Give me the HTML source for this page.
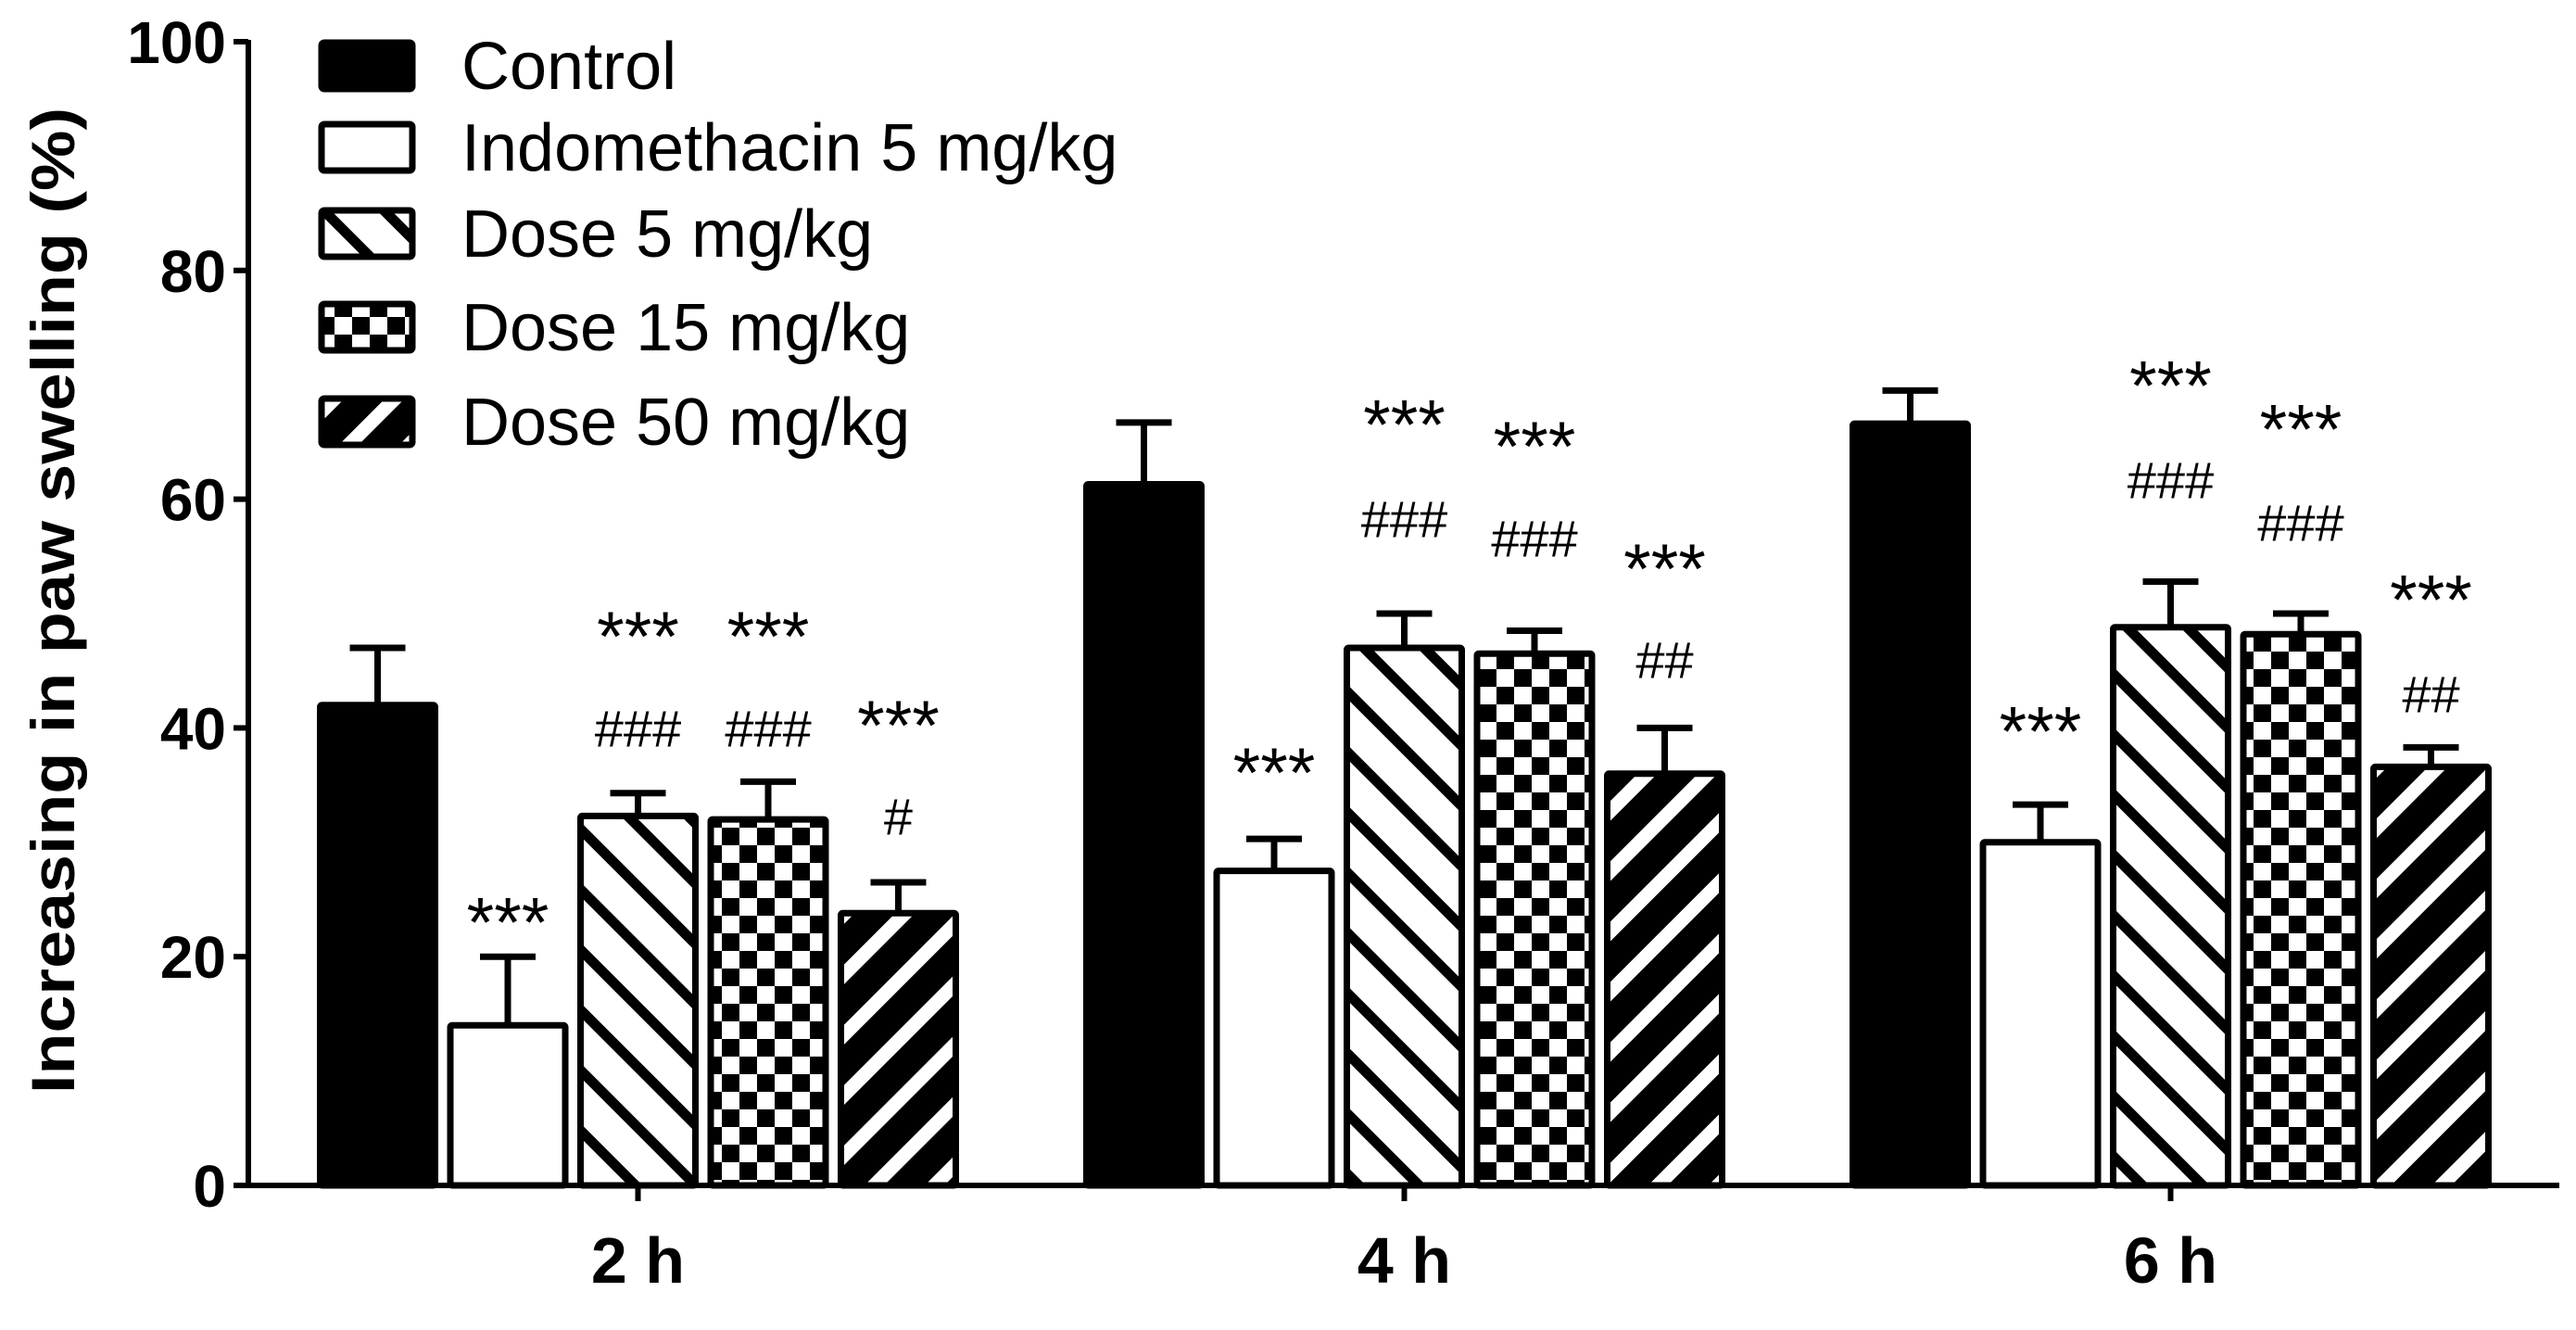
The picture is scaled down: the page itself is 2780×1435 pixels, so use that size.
<!DOCTYPE html>
<html><head><meta charset="utf-8"><style>
html,body{margin:0;padding:0;background:#fff;}
svg{display:block;font-family:"Liberation Sans",Arial,sans-serif;}
</style></head><body>
<svg id="chart" width="2780" height="1435" viewBox="0 0 2780 1435" xmlns="http://www.w3.org/2000/svg">
<defs>
<pattern id="p-d5" patternUnits="userSpaceOnUse" width="46" height="46" patternTransform="rotate(45)">
<rect width="46" height="46" fill="#fff"/><rect x="0" y="0" width="46" height="11" fill="#000"/></pattern>
<pattern id="p-d15" patternUnits="userSpaceOnUse" width="38" height="38">
<rect width="38" height="38" fill="#fff"/><rect x="0" y="0" width="19" height="19" fill="#000"/><rect x="19" y="19" width="19" height="19" fill="#000"/></pattern>
<pattern id="p-d50" patternUnits="userSpaceOnUse" width="46" height="46" patternTransform="rotate(-45)">
<rect width="46" height="46" fill="#000"/><rect x="0" y="0" width="46" height="15" fill="#fff"/></pattern>
</defs>
<g id="axes"></g>
<g id="bars"></g>
<g id="legend"></g>
</svg>
<script>
const categories = ["2 h", "4 h", "6 h"];
const seriesNames = ["Control", "Indomethacin 5 mg/kg", "Dose 5 mg/kg", "Dose 15 mg/kg", "Dose 50 mg/kg"];
const control = [42, 61.3, 66.6];
const indomethacin = [14, 27.5, 30];
const dose5 = [32.3, 47, 48.8];
const dose15 = [32, 46.5, 48.2];
const dose50 = [23.8, 36, 36.6];
const errControl = [5, 5.4, 2.9];
const errIndo = [6, 2.8, 3.3];
const errDose5 = [2, 3, 4];
const errDose15 = [3.3, 2, 1.8];
const errDose50 = [2.7, 4, 1.7];
const starText = [["", "***", "***", "***", "***"], ["", "***", "***", "***", "***"], ["", "***", "***", "***", "***"]];
const starY = [[0, 23.3, 48.3, 48.3, 40.5], [0, 36.4, 66.8, 64.9, 54.2], [0, 40.0, 70.2, 66.4, 51.5]];
const hashText = [["", "", "###", "###", "#"], ["", "", "###", "###", "##"], ["", "", "###", "###", "##"]];
const hashY = [[0, 0, 40.0, 40.0, 32.3], [0, 0, 58.3, 56.6, 46.0], [0, 0, 61.7, 58.0, 43.0]];
const yTicks = [0, 20, 40, 60, 80, 100];

const series = [control, indomethacin, dose5, dose15, dose50];
const errs = [errControl, errIndo, errDose5, errDose15, errDose50];
const fills = ["#000", "#fff", "url(#p-d5)", "url(#p-d15)", "url(#p-d50)"];
const keys = ["control", "indomethacin", "dose-5", "dose-15", "dose-50"];
const NS = "http://www.w3.org/2000/svg";
const x0 = 268, xEnd = 2762, yBase = 1279, yTop = 45;
const yScale = v => yBase - (v / 100) * (yBase - yTop);
const groupStart = i => 342 + i * 827;
const barW = 131, barStep = 140.5;
const barX = (g, s) => groupStart(g) + s * barStep;
function mk(tag, attrs, parent) { const e = document.createElementNS(NS, tag); for (const k in attrs) e.setAttribute(k, attrs[k]); parent.appendChild(e); return e; }
const axes = document.getElementById('axes'), bars = document.getElementById('bars'), legend = document.getElementById('legend');

let e = mk('line', {x1: x0, y1: yTop - 2, x2: x0, y2: yBase + 3, stroke: '#000', 'stroke-width': 6}, axes);


e = mk('line', {x1: x0 - 3, y1: yBase, x2: xEnd, y2: yBase, stroke: '#000', 'stroke-width': 6}, axes);


yTicks.forEach(t => {
  const y = yScale(t);
  let tk = mk('line', {x1: x0 - 16, y1: y, x2: x0, y2: y, stroke: '#000', 'stroke-width': 6}, axes);
  
  
  let lb = mk('text', {x: x0 - 24, y: y + 23, 'text-anchor': 'end', 'font-size': 64, 'font-weight': 'bold'}, axes);
  lb.textContent = t;
  
  
});
let yt = mk('text', {x: 0, y: 0, 'text-anchor': 'middle', 'font-size': 66, 'font-weight': 'bold', transform: 'translate(80,648) rotate(-90)', textLength: 1064, lengthAdjust: 'spacingAndGlyphs'}, axes);
yt.textContent = 'Increasing in paw swelling (%)';



categories.forEach((c, g) => {
  const cx = barX(g, 0) + (barX(g, 4) + barW - barX(g, 0)) / 2;
  let tk = mk('line', {x1: cx, y1: yBase, x2: cx, y2: yBase + 17, stroke: '#000', 'stroke-width': 6}, axes);
  
  
  let lb = mk('text', {x: cx, y: 1384, 'text-anchor': 'middle', 'font-size': 70, 'font-weight': 'bold'}, axes);
  lb.textContent = c;
  
  
  series.forEach((arr, s) => {
    const x = barX(g, s), yv = yScale(arr[g]), ye = yScale(arr[g] + errs[s][g]), mx = x + barW / 2;
    let eb = mk('path', {d: `M${mx},${yv} V${ye} M${mx - 30},${ye} H${mx + 30}`, stroke: '#000', 'stroke-width': 7, fill: 'none'}, bars);
    
    
    let r = mk('rect', {x: x + 3.5, y: yv, width: barW - 7, height: yBase - yv, fill: fills[s], stroke: 'none'}, bars);
    
    
    let ro = mk('rect', {x: x + 3.5, y: yv, width: barW - 7, height: yBase - yv, fill: 'none', stroke: '#000', 'stroke-width': 7, rx: 2}, bars);
    
    
    if (starText[g][s]) {
      let st = mk('text', {x: mx, y: yScale(starY[g][s]) + 30, 'text-anchor': 'middle', 'font-size': 76}, bars);
      st.textContent = starText[g][s];
      
      
    }
    if (hashText[g][s]) {
      let ht = mk('text', {x: mx, y: yScale(hashY[g][s]) + 20, 'text-anchor': 'middle', 'font-size': 56}, bars);
      ht.textContent = hashText[g][s];
      
      
    }
  });
});

const legY = [71, 159, 252, 353, 455];
seriesNames.forEach((n, s) => {
  let sw = mk('rect', {x: 347, y: legY[s] - 25, width: 98, height: 50, fill: fills[s], stroke: '#000', 'stroke-width': 7, rx: 3}, legend);
  
  
  let t = mk('text', {x: 498, y: legY[s] + 25, 'font-size': 72}, legend);
  t.textContent = n;
  
  
});
</script>
</body></html>
